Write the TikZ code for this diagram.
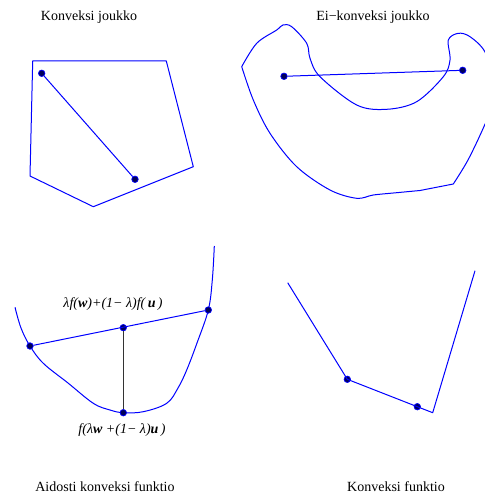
\documentclass[tikz,border=0pt]{standalone}
\usepackage{fontspec}
\setmainfont{Liberation Serif}
\usetikzlibrary{positioning}
\definecolor{dotblue}{RGB}{0,0,90}
\tikzset{
  curve/.style={draw=blue, line width=1pt, line join=round},
  chord/.style={draw=blue, line width=1pt},
  vline/.style={draw=black!80, line width=0.7pt},
  dot/.style={circle, draw=blue, fill=dotblue, line width=0.7pt, inner sep=0pt, minimum size=6.5pt},
  title/.style={font=\fontsize{14}{16}\selectfont, inner sep=0pt},
  formula/.style={font=\fontsize{14}{16}\selectfont\itshape, inner sep=0pt}
}

\begin{document}
\begin{tikzpicture}[x=1pt,y=-1pt]
  \useasboundingbox (0,0) rectangle (484,494);

  % convex set
  \node[title] (t1) at (89,17) {Konveksi joukko};
  \draw[curve] (32.7,61) -- (166.3,61) -- (193.3,166.7) -- (93.3,206.7) -- (30,176) -- cycle;
  \node[dot] (a1) at (41.7,73.3) {};
  \node[dot] (b1) at (135,179.3) {};
  \draw[chord] (a1) -- (b1);

  % non-convex set
  \node[title] (t2) at (373,17) {Ei−konveksi joukko};
  \draw[curve] plot[smooth, tension=0.55] coordinates {
      (241.7,66.7) (256.7,43.3) (276.7,30) (283,25) (291.7,26.7) (306.7,43.3)
      (310,58.3) (320,76.7) (356.7,105) (386.7,109.3) (416.7,101.7) (443.3,76.7)
      (450,60) (448.3,40) (458.3,33.3) (470,36.7) (485,52) (492,80) (490,110)
      (483.3,128) (468,160) (453.3,184)}
    -- plot[smooth, tension=0.55] coordinates {
      (420,190.5) (396.7,192.7) (373.3,195) (356.7,198.3) (330,190)
      (296.7,166.7) (270,133.3) (253.3,100) (241.7,66.7)};
  \node[dot] (a2) at (284,76.3) {};
  \node[dot] (b2) at (462.7,70.3) {};
  \draw[chord] (a2) -- (b2);

  % strictly convex function
  \draw[curve] plot[smooth, tension=0.6] coordinates {
    (15,307.3) (21,328) (30,346) (43.3,363.3) (68,383) (93.3,403.3) (110,410)
    (123.3,412.7) (143.3,411.7) (166.7,403.3) (178,388) (186.7,370) (197,343)
    (208.3,310) (212.3,280) (214.3,246)};
  \node[dot] (a3) at (30,346) {};
  \node[dot] (b3) at (208.3,310) {};
  \node[dot] (m3) at (123.3,327.7) {};
  \node[dot] (n3) at (123.3,412.7) {};
  \draw[chord] (a3) -- (b3);
  \draw[vline] (m3) -- (n3);
  \node[formula] (lab1) at (113,304) {λf(\textbf{w})+(1− λ)f(\,\textbf{u}\,)};
  \node[formula] (lab2) at (122,430) {f(λ\textbf{w} +(1− λ)\textbf{u}\,)};
  \node[title] (t3) at (105,487) {Aidosti konveksi funktio};

  % convex function
  \coordinate (c1) at (287.7,282.7);
  \coordinate (c2) at (432.7,412.7);
  \coordinate (c3) at (475,270.7);
  \node[dot] (p1) at (347.3,379.3) {};
  \node[dot] (p2) at (417.3,406.7) {};
  \draw[curve] (c1) -- (p1.center) -- (p2.center) -- (c2) -- (c3);
  \node[title] (t4) at (396,487) {Konveksi funktio};
\end{tikzpicture}
\end{document}
